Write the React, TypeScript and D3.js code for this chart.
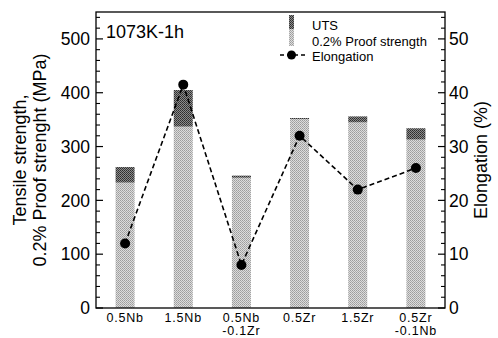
import React from "react";
import * as d3 from "d3";

const categories = [["0.5Nb"], ["1.5Nb"], ["0.5Nb", "-0.1Zr"], ["0.5Zr"], ["1.5Zr"], ["0.5Zr", "-0.1Nb"]];
const utsValues = [262, 405, 246, 353, 356, 334];
const proofValues = [233, 337, 242, 351, 345, 313];
const elongationValues = [12, 41.5, 8, 32, 22, 26];
const leftTicks = [0, 100, 200, 300, 400, 500];
const rightTicks = [0, 10, 20, 30, 40, 50];

const W = 498;
const H = 338;
const L = 96, R = 445, T = 12, B = 308;
const FONT = "'Liberation Sans', Arial, Helvetica, sans-serif";

export default function App() {
  const keys = categories.map((c) => c.join(" "));
  const x = d3.scaleBand<string>().domain(keys).range([L, R]).paddingInner(0).paddingOuter(0);
  const y = d3.scaleLinear().domain([0, 550]).range([B, T]);
  const y2 = d3.scaleLinear().domain([0, 55]).range([B, T]);
  const barW = 19;
  const cx = (i: number) => (x(keys[i]) as number) + x.bandwidth() / 2;

  const line = d3
    .line<number>()
    .x((_, i) => cx(i))
    .y((d) => y2(d));

  const leftMinor = d3.range(0, 551, 20).filter((v) => v % 100 !== 0);
  const rightMinor = d3.range(0, 55.1, 2).filter((v) => v % 10 !== 0);

  return (
    <svg width={W} height={H} style={{ position: "absolute", left: 0, top: 0, background: "#fff" }} fontFamily={FONT}>
      <defs>
        <pattern id="light" width={2} height={2} patternUnits="userSpaceOnUse">
          <rect width={2} height={2} fill="#dcdcdc" />
          <rect width={1} height={1} fill="#9c9c9c" />
          <rect x={1} y={1} width={1} height={1} fill="#aaaaaa" />
        </pattern>
        <pattern id="dark" width={2} height={2} patternUnits="userSpaceOnUse">
          <rect width={2} height={2} fill="#8c8c8c" />
          <rect width={1} height={1} fill="#2c2c2c" />
          <rect x={1} y={1} width={1} height={1} fill="#3c3c3c" />
        </pattern>
      </defs>

      {/* bars */}
      {keys.map((k, i) => (
        <g key={k}>
          <rect x={cx(i) - barW / 2} y={y(proofValues[i])} width={barW} height={y(0) - y(proofValues[i])} fill="url(#light)" />
          <rect x={cx(i) - barW / 2} y={y(utsValues[i])} width={barW} height={y(proofValues[i]) - y(utsValues[i])} fill="url(#dark)" />
        </g>
      ))}

      {/* elongation */}
      <path d={line(elongationValues) as string} fill="none" stroke="#000" strokeWidth={1.6} strokeDasharray="5,3" />
      {elongationValues.map((v, i) => (
        <circle key={i} cx={cx(i)} cy={y2(v)} r={5} fill="#000" />
      ))}

      {/* frame */}
      <rect x={L} y={T} width={R - L} height={B - T} fill="none" stroke="#000" strokeWidth={1.3} />

      {/* left axis ticks */}
      {leftTicks.map((t) => (
        <g key={t}>
          <line x1={L} x2={L + 7} y1={y(t)} y2={y(t)} stroke="#000" strokeWidth={1.2} />
          <text x={L - 6} y={y(t)} dy="0.36em" textAnchor="end" fontSize={17.5} fill="#000">{t}</text>
        </g>
      ))}
      {leftMinor.map((t) => (
        <line key={t} x1={L} x2={L + 4} y1={y(t)} y2={y(t)} stroke="#000" strokeWidth={1.1} />
      ))}

      {/* right axis ticks */}
      {rightTicks.map((t) => (
        <g key={t}>
          <line x1={R} x2={R - 7} y1={y2(t)} y2={y2(t)} stroke="#000" strokeWidth={1.2} />
          <text x={R + 4} y={y2(t)} dy="0.36em" textAnchor="start" fontSize={17.5} fill="#000">{t}</text>
        </g>
      ))}
      {rightMinor.map((t) => (
        <line key={t} x1={R} x2={R - 4} y1={y2(t)} y2={y2(t)} stroke="#000" strokeWidth={1.1} />
      ))}

      {/* category labels */}
      {categories.map((c, i) => (
        <text key={i} x={cx(i)} y={322} textAnchor="middle" fontSize={12.5} letterSpacing={0.8} fill="#000">
          {c.map((s, j) => (
            <tspan key={j} x={cx(i)} dy={j === 0 ? 0 : 13}>{s}</tspan>
          ))}
        </text>
      ))}

      {/* title */}
      <text x={106} y={38} fontSize={18} fill="#000">1073K-1h</text>

      {/* legend */}
      <rect x={289} y={15} width={5} height={14} fill="url(#dark)" />
      <rect x={289} y={29} width={5} height={17} fill="url(#light)" />
      <line x1={280} x2={305} y1={55} y2={55} stroke="#000" strokeWidth={1.4} strokeDasharray="4,3" />
      <circle cx={291.5} cy={55} r={4.5} fill="#000" />
      <text x={312} y={30} fontSize={13} fill="#000">UTS</text>
      <text x={312} y={46} fontSize={13} fill="#000">0.2% Proof  strength</text>
      <text x={312} y={61} fontSize={13} fill="#000">Elongation</text>

      {/* axis titles */}
      <text transform="translate(26,160) rotate(-90)" textAnchor="middle" fontSize={18} fill="#000">Tensile strength,</text>
      <text transform="translate(46,160) rotate(-90)" textAnchor="middle" fontSize={18} fill="#000">0.2% Proof strenght (MPa)</text>
      <text transform="translate(487,160) rotate(-90)" textAnchor="middle" fontSize={18} fill="#000">Elongation  (%)</text>
    </svg>
  );
}
